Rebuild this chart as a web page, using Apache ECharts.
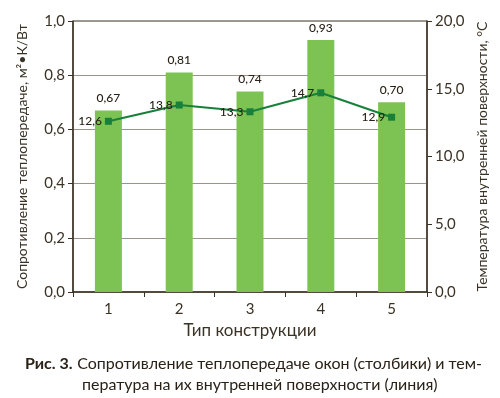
<!DOCTYPE html>
<html>
<head>
<meta charset="utf-8">
<script src="https://cdn.jsdelivr.net/npm/echarts@6/dist/echarts.min.js"></script>
<style>
    html, body { margin: 0; padding: 0; background: #fff; }
    #chart_con { width: 500px; height: 398px; }
</style>
</head>
<body>
<div id="chart_con"></div>
<script>
    // данные с картинки
    var categories = ['1', '2', '3', '4', '5'];
    var resistance = [0.67, 0.81, 0.74, 0.93, 0.70];
    var temperature = [12.6, 13.8, 13.3, 14.7, 12.9];

    var font = 'Lato, "Open Sans", sans-serif';
    var axisColor = '#3b3226';
    var textColor = '#3b3226';

    function comma(v, d) {
        return Number(v).toFixed(d).replace('.', ',');
    }

    var chart = echarts.init(document.getElementById('chart_con'));
    chart.setOption({
        animation: false,
        textStyle: {fontFamily: font},
        title: [
            {
                left: 20,
                top: 350,
                text: '{b|Рис. 3.} {n|Сопротивление теплопередаче окон (столбики) и тем-}',
                textStyle: {
                    fontWeight: 'normal',
                    rich: {
                        b: {fontFamily: font, fontSize: 16, fontWeight: 'bold', color: '#2a2218'},
                        n: {fontFamily: font, fontSize: 16, fontWeight: 'normal', color: '#2a2218'}
                    }
                }
            },
            {
                left: 77,
                top: 372,
                text: 'пература на их внутренней поверхности (линия)',
                textStyle: {fontFamily: font, fontSize: 16, fontWeight: 'normal', color: '#2a2218'}
            }
        ],
        grid: {
            left: 73,
            right: 73,
            top: 21,
            bottom: 106,
            show: true,
            borderColor: axisColor,
            borderWidth: 1
        },
        xAxis: {
            type: 'category',
            data: categories,
            name: 'Тип конструкции',
            nameLocation: 'middle',
            nameGap: 30,
            nameTextStyle: {fontSize: 17, color: textColor},
            axisLine: {lineStyle: {color: axisColor, width: 1.5}},
            axisTick: {show: true, alignWithLabel: false, length: 5, lineStyle: {color: axisColor}},
            axisLabel: {fontSize: 15, color: textColor, margin: 10}
        },
        yAxis: [
            {
                type: 'value',
                min: 0,
                max: 1,
                interval: 0.2,
                name: 'Сопротивление теплопередаче, м²•К/Вт',
                nameLocation: 'middle',
                nameGap: 44,
                nameTextStyle: {fontSize: 14, color: textColor},
                axisLine: {show: true, lineStyle: {color: axisColor, width: 1.5}},
                axisTick: {show: true, length: 5, lineStyle: {color: axisColor}},
                axisLabel: {fontSize: 15, color: textColor, margin: 8,
                    formatter: function (v) { return comma(v, 1); }},
                splitLine: {lineStyle: {color: '#9c9488', width: 1}}
            },
            {
                type: 'value',
                min: 0,
                max: 20,
                interval: 5,
                position: 'right',
                name: 'Температура внутренней поверхности, °С',
                nameLocation: 'middle',
                nameGap: 47,
                nameTextStyle: {fontSize: 14, color: textColor},
                axisLine: {show: true, lineStyle: {color: axisColor, width: 1.5}},
                axisTick: {show: true, length: 5, lineStyle: {color: axisColor}},
                axisLabel: {fontSize: 15, color: textColor, margin: 8,
                    formatter: function (v) { return comma(v, 1); }},
                splitLine: {show: false}
            }
        ],
        series: [
            {
                name: 'Сопротивление',
                type: 'bar',
                data: resistance,
                barWidth: 27,
                itemStyle: {color: '#7dc353'},
                label: {
                    show: true,
                    position: 'top',
                    distance: 6,
                    fontSize: 12,
                    fontWeight: 500,
                    color: '#2a2218',
                    formatter: function (p) { return comma(p.value, 2); }
                }
            },
            {
                name: 'Температура',
                type: 'line',
                yAxisIndex: 1,
                data: temperature,
                symbol: 'rect',
                symbolSize: 7,
                lineStyle: {color: '#17803a', width: 2},
                itemStyle: {color: '#17803a'},
                label: {
                    show: true,
                    position: 'left',
                    distance: 3,
                    fontSize: 12,
                    fontWeight: 500,
                    color: '#2a2218',
                    formatter: function (p) { return comma(p.value, 1); }
                }
            }
        ]
    });
</script>
</body>
</html>
